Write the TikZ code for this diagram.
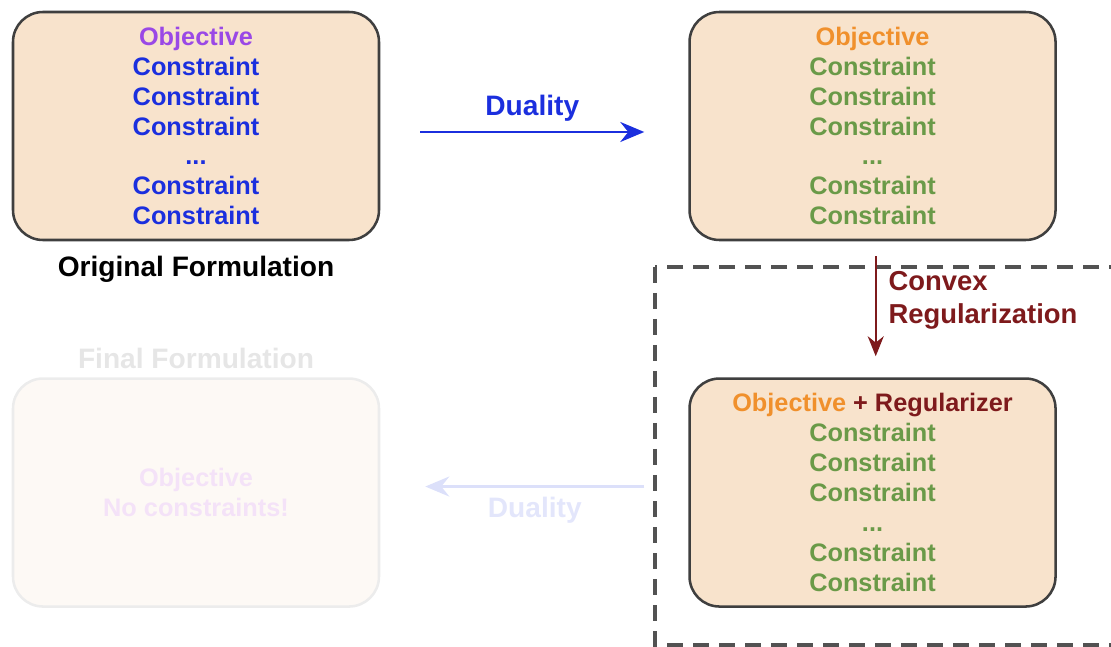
\documentclass[tikz,border=0pt]{standalone}
\usepackage{fontspec}
\setmainfont{Liberation Sans}
\usepackage{xcolor}
\usetikzlibrary{positioning,arrows.meta}
\definecolor{boxfill}{HTML}{F8E3CC}
\definecolor{boxline}{HTML}{3F3F3F}
\definecolor{objpurple}{HTML}{9A48E6}
\definecolor{consblue}{HTML}{1B2FDE}
\definecolor{objorange}{HTML}{F0902C}
\definecolor{consgreen}{HTML}{6A9A48}
\definecolor{regred}{HTML}{7E1A1C}
\definecolor{fadefill}{HTML}{FDF9F5}
\definecolor{fadeline}{HTML}{ECECEC}
\definecolor{fadetext}{HTML}{F4E2F8}
\definecolor{fadeblue}{HTML}{DCE0FA}
\definecolor{fadegray}{HTML}{E6E6E6}

\begin{document}
\begin{tikzpicture}[
      font=\fontsize{18}{21.3}\selectfont\bfseries,
      forma/.style={draw=boxline, line width=1.8pt, rounded corners=0.75cm, fill=boxfill,
                    align=center, minimum width=9.15cm, minimum height=5.7cm, inner sep=0pt},
      apagada/.style={forma, draw=fadeline, fill=fadefill, text=fadetext},
      rotulo/.style={font=\fontsize{20}{24}\selectfont\bfseries},
      seta/.style={-{Stealth[length=6mm, width=5mm, inset=2mm]}, line width=2.1pt},
      node distance=7.7cm]
    \useasboundingbox (0,0) rectangle (27.775,-16.175);
    \node[forma, text=consblue] (orig) at (4.9,-3.15) {\textcolor{objpurple}{Objective}\\
      Constraint\\ Constraint\\ Constraint\\ ...\\ Constraint\\ Constraint};
    \node[forma, text=consgreen, right=of orig] (dual) {\textcolor{objorange}{Objective}\\
      Constraint\\ Constraint\\ Constraint\\ ...\\ Constraint\\ Constraint};
    \node[forma, text=consgreen, below=3.4cm of dual] (reg) {\textcolor{objorange}{Objective} \textcolor{regred}{+ Regularizer}\\
      Constraint\\ Constraint\\ Constraint\\ ...\\ Constraint\\ Constraint};
    \node[apagada, left=of reg] (final) {Objective\\ No constraints!};
    \node[rotulo, below=0.25cm of orig] (torig) {Original Formulation};
    \node[rotulo, text=fadegray, above=0.1cm of final] (tfinal) {Final Formulation};
    % moldura tracejada
    \draw[boxline!90, line width=2.3pt, dash pattern=on 0.4cm off 0.25cm]
      (16.375,-6.675) rectangle (28.4,-16.125);
    \draw[seta, consblue] ([xshift=1cm, yshift=-0.15cm]orig.east) -- ([xshift=-1.1cm, yshift=-0.15cm]dual.west)
      node[midway, above=3pt, rotulo] {Duality};
    \draw[seta, regred, line width=1.6pt, -{Stealth[length=5mm, width=4mm, inset=1.6mm]}]
      ([xshift=0.08cm, yshift=-0.375cm]dual.south) -- ([xshift=0.08cm, yshift=0.525cm]reg.north)
      node[midway, right=5pt, rotulo, align=left, yshift=0.15cm, font=\fontsize{19.5}{23.4}\selectfont\bfseries] {Convex\\ Regularization};
    \draw[seta, fadeblue] ([xshift=-1.1cm, yshift=0.15cm]reg.west) -- ([xshift=1.125cm, yshift=0.15cm]final.east)
      node[midway, below=3pt, rotulo, text=fadeblue!80] {Duality};
\end{tikzpicture}
\end{document}
